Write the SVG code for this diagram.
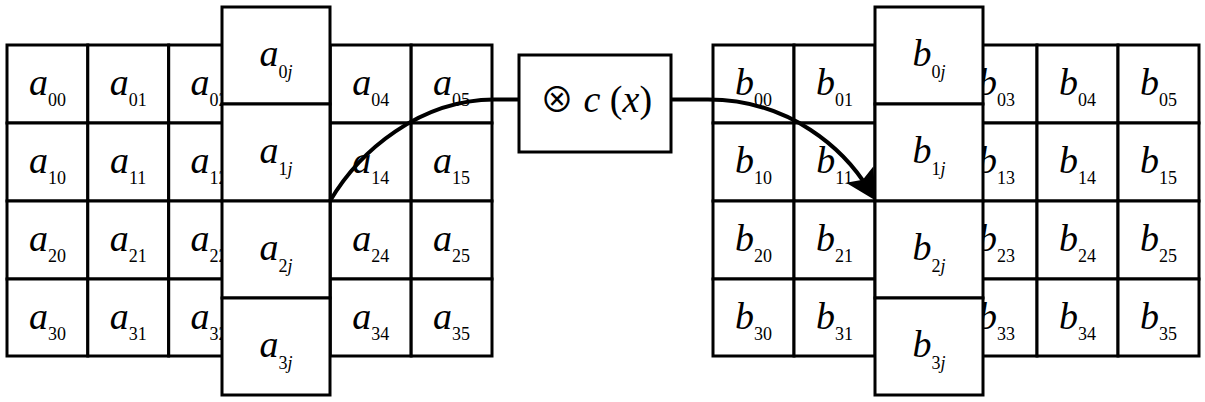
<svg xmlns="http://www.w3.org/2000/svg" width="1205" height="402" viewBox="0 0 1205 402" font-family="Liberation Serif" font-style="italic" font-size="38" text-anchor="middle">
<style>
rect{fill:#fff;stroke:#000;stroke-width:3}
.s{font-size:18px;font-style:normal}
.i{font-style:italic}
.u{font-style:normal}
.c{fill:none;stroke:#000;stroke-width:4}
</style>
<defs>
<marker id="ah" markerUnits="userSpaceOnUse" viewBox="0 0 30 32" markerWidth="30" markerHeight="32" refX="18" refY="16" orient="auto">
<path d="M0,0 L30,16 L0,32 L6,16 Z" fill="#000"/>
</marker>
</defs>
<g id="gridA">
<g id="a00"><rect x="7" y="45" width="80.8" height="78"/><text x="47.4" y="95">a<tspan class="s" dy="11">00</tspan></text></g>
<g id="a01"><rect x="87.8" y="45" width="80.8" height="78"/><text x="128.2" y="95">a<tspan class="s" dy="11">01</tspan></text></g>
<g id="a02"><rect x="168.7" y="45" width="80.8" height="78"/><text x="209.1" y="95">a<tspan class="s" dy="11">02</tspan></text></g>
<g id="a04"><rect x="330.3" y="45" width="80.8" height="78"/><text x="370.7" y="95">a<tspan class="s" dy="11">04</tspan></text></g>
<g id="a05"><rect x="411.2" y="45" width="80.8" height="78"/><text x="451.6" y="95">a<tspan class="s" dy="11">05</tspan></text></g>
<g id="a10"><rect x="7" y="123" width="80.8" height="78"/><text x="47.4" y="173">a<tspan class="s" dy="11">10</tspan></text></g>
<g id="a11"><rect x="87.8" y="123" width="80.8" height="78"/><text x="128.2" y="173">a<tspan class="s" dy="11">11</tspan></text></g>
<g id="a12"><rect x="168.7" y="123" width="80.8" height="78"/><text x="209.1" y="173">a<tspan class="s" dy="11">12</tspan></text></g>
<g id="a14"><rect x="330.3" y="123" width="80.8" height="78"/><text x="370.7" y="173">a<tspan class="s" dy="11">14</tspan></text></g>
<g id="a15"><rect x="411.2" y="123" width="80.8" height="78"/><text x="451.6" y="173">a<tspan class="s" dy="11">15</tspan></text></g>
<g id="a20"><rect x="7" y="201" width="80.8" height="78"/><text x="47.4" y="251">a<tspan class="s" dy="11">20</tspan></text></g>
<g id="a21"><rect x="87.8" y="201" width="80.8" height="78"/><text x="128.2" y="251">a<tspan class="s" dy="11">21</tspan></text></g>
<g id="a22"><rect x="168.7" y="201" width="80.8" height="78"/><text x="209.1" y="251">a<tspan class="s" dy="11">22</tspan></text></g>
<g id="a24"><rect x="330.3" y="201" width="80.8" height="78"/><text x="370.7" y="251">a<tspan class="s" dy="11">24</tspan></text></g>
<g id="a25"><rect x="411.2" y="201" width="80.8" height="78"/><text x="451.6" y="251">a<tspan class="s" dy="11">25</tspan></text></g>
<g id="a30"><rect x="7" y="279" width="80.8" height="77"/><text x="47.4" y="329">a<tspan class="s" dy="11">30</tspan></text></g>
<g id="a31"><rect x="87.8" y="279" width="80.8" height="77"/><text x="128.2" y="329">a<tspan class="s" dy="11">31</tspan></text></g>
<g id="a32"><rect x="168.7" y="279" width="80.8" height="77"/><text x="209.1" y="329">a<tspan class="s" dy="11">32</tspan></text></g>
<g id="a34"><rect x="330.3" y="279" width="80.8" height="77"/><text x="370.7" y="329">a<tspan class="s" dy="11">34</tspan></text></g>
<g id="a35"><rect x="411.2" y="279" width="80.8" height="77"/><text x="451.6" y="329">a<tspan class="s" dy="11">35</tspan></text></g>
</g>
<g id="colA">
<g id="a0j"><rect x="222" y="7" width="108" height="97"/><text x="276" y="66">a<tspan class="s" dy="12">0<tspan class="i">j</tspan></tspan></text></g>
<g id="a1j"><rect x="222" y="104" width="108" height="97"/><text x="276" y="163">a<tspan class="s" dy="12">1<tspan class="i">j</tspan></tspan></text></g>
<g id="a2j"><rect x="222" y="201" width="108" height="97"/><text x="276" y="260">a<tspan class="s" dy="12">2<tspan class="i">j</tspan></tspan></text></g>
<g id="a3j"><rect x="222" y="298" width="108" height="97"/><text x="276" y="357">a<tspan class="s" dy="12">3<tspan class="i">j</tspan></tspan></text></g>
</g>
<g id="gridB">
<g id="b00"><rect x="713" y="45" width="81" height="78"/><text x="753.5" y="95">b<tspan class="s" dy="11">00</tspan></text></g>
<g id="b01"><rect x="794" y="45" width="81" height="78"/><text x="834.5" y="95">b<tspan class="s" dy="11">01</tspan></text></g>
<g id="b03"><rect x="956" y="45" width="81" height="78"/><text x="996.5" y="95">b<tspan class="s" dy="11">03</tspan></text></g>
<g id="b04"><rect x="1037" y="45" width="81" height="78"/><text x="1077.5" y="95">b<tspan class="s" dy="11">04</tspan></text></g>
<g id="b05"><rect x="1118" y="45" width="81" height="78"/><text x="1158.5" y="95">b<tspan class="s" dy="11">05</tspan></text></g>
<g id="b10"><rect x="713" y="123" width="81" height="78"/><text x="753.5" y="173">b<tspan class="s" dy="11">10</tspan></text></g>
<g id="b11"><rect x="794" y="123" width="81" height="78"/><text x="834.5" y="173">b<tspan class="s" dy="11">11</tspan></text></g>
<g id="b13"><rect x="956" y="123" width="81" height="78"/><text x="996.5" y="173">b<tspan class="s" dy="11">13</tspan></text></g>
<g id="b14"><rect x="1037" y="123" width="81" height="78"/><text x="1077.5" y="173">b<tspan class="s" dy="11">14</tspan></text></g>
<g id="b15"><rect x="1118" y="123" width="81" height="78"/><text x="1158.5" y="173">b<tspan class="s" dy="11">15</tspan></text></g>
<g id="b20"><rect x="713" y="201" width="81" height="78"/><text x="753.5" y="251">b<tspan class="s" dy="11">20</tspan></text></g>
<g id="b21"><rect x="794" y="201" width="81" height="78"/><text x="834.5" y="251">b<tspan class="s" dy="11">21</tspan></text></g>
<g id="b23"><rect x="956" y="201" width="81" height="78"/><text x="996.5" y="251">b<tspan class="s" dy="11">23</tspan></text></g>
<g id="b24"><rect x="1037" y="201" width="81" height="78"/><text x="1077.5" y="251">b<tspan class="s" dy="11">24</tspan></text></g>
<g id="b25"><rect x="1118" y="201" width="81" height="78"/><text x="1158.5" y="251">b<tspan class="s" dy="11">25</tspan></text></g>
<g id="b30"><rect x="713" y="279" width="81" height="77"/><text x="753.5" y="329">b<tspan class="s" dy="11">30</tspan></text></g>
<g id="b31"><rect x="794" y="279" width="81" height="77"/><text x="834.5" y="329">b<tspan class="s" dy="11">31</tspan></text></g>
<g id="b33"><rect x="956" y="279" width="81" height="77"/><text x="996.5" y="329">b<tspan class="s" dy="11">33</tspan></text></g>
<g id="b34"><rect x="1037" y="279" width="81" height="77"/><text x="1077.5" y="329">b<tspan class="s" dy="11">34</tspan></text></g>
<g id="b35"><rect x="1118" y="279" width="81" height="77"/><text x="1158.5" y="329">b<tspan class="s" dy="11">35</tspan></text></g>
</g>
<g id="colB">
<g id="b0j"><rect x="875" y="7" width="108" height="97"/><text x="929" y="66">b<tspan class="s" dy="12">0<tspan class="i">j</tspan></tspan></text></g>
<g id="b1j"><rect x="875" y="104" width="108" height="97"/><text x="929" y="163">b<tspan class="s" dy="12">1<tspan class="i">j</tspan></tspan></text></g>
<g id="b2j"><rect x="875" y="201" width="108" height="97"/><text x="929" y="260">b<tspan class="s" dy="12">2<tspan class="i">j</tspan></tspan></text></g>
<g id="b3j"><rect x="875" y="298" width="108" height="97"/><text x="929" y="357">b<tspan class="s" dy="12">3<tspan class="i">j</tspan></tspan></text></g>
</g>
<g id="op"><rect x="519" y="55" width="152" height="97"/><text x="596" y="112"><tspan font-family="Noto Sans CJK JP" font-style="normal" font-size="34">⊗</tspan> c <tspan class="u">(</tspan>x<tspan class="u">)</tspan></text></g>
<g id="connectors">
<path class="c" d="M330,201 C360,150 420,100 494,99.5 L519,99.5"/>
<path class="c" d="M671,99.5 L708,99.5 C790,99.5 845,150 869,190" marker-end="url(#ah)"/>
</g>
</svg>
